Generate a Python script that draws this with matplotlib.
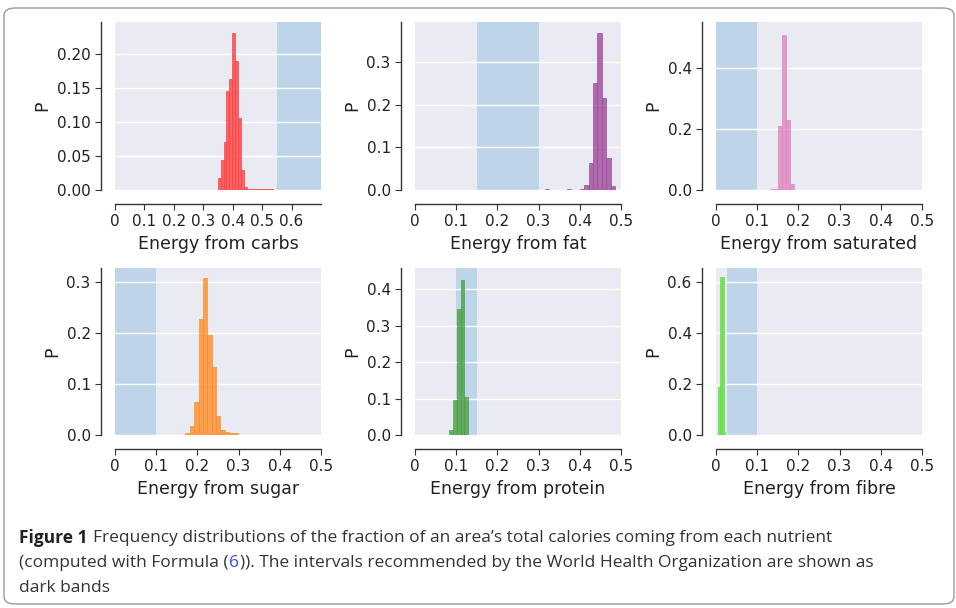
import matplotlib
matplotlib.use("Agg")
import matplotlib.pyplot as plt
from matplotlib.patches import FancyBboxPatch
from matplotlib.ticker import FuncFormatter

# --- data (bin left edges, bin width, heights) ---
carbs_start, carbs_w = 0.349, 0.0099
carbs_h = [0.017, 0.044, 0.07, 0.145, 0.163, 0.231, 0.19, 0.106, 0.03, 0.005, 0.001, 0.002, 0.001, 0.001, 0.0015, 0.001, 0.001, 0.001, 0.001]
fat_start, fat_w = 0.3156, 0.0106
fat_h = [0.002, 0.001, 0.001, 0.001, 0.001, 0.002, 0.001, 0.001, 0.002, 0.012, 0.0625, 0.25, 0.368, 0.216, 0.075, 0.01]
sat_start, sat_w = 0.13, 0.01
sat_h = [0.003, 0.004, 0.21, 0.51, 0.23, 0.02]
sugar_start, sugar_w = 0.171, 0.0106
sugar_h = [0.003, 0.018, 0.065, 0.227, 0.308, 0.196, 0.133, 0.037, 0.01, 0.005, 0.003, 0.003]
prot_start, prot_w = 0.0837, 0.009
prot_h = [0.013, 0.095, 0.345, 0.425, 0.104]
fibre_start, fibre_w = 0.005, 0.0045
fibre_h = [0.19, 0.62, 0.62, 0.01]

labels = ["Energy from carbs", "Energy from fat", "Energy from saturated",
          "Energy from sugar", "Energy from protein", "Energy from fibre"]
bands = [(0.55, 0.75), (0.15, 0.30), (0.0, 0.10), (0.0, 0.10), (0.10, 0.15), (0.027, 0.10)]
xmax = [0.70, 0.5, 0.5, 0.5, 0.5, 0.5]
ymax = [0.247, 0.393, 0.551, 0.327, 0.458, 0.655]
yticks = [[0, .05, .10, .15, .20], [0, .1, .2, .3], [0, .2, .4],
          [0, .1, .2, .3], [0, .1, .2, .3, .4], [0, .2, .4, .6]]
xticks = [[0, .1, .2, .3, .4, .5, .6]] + [[0, .1, .2, .3, .4, .5]] * 5
colors = ["#ff4040", "#a04a9c", "#e085c0", "#ff8c2a", "#4aa040", "#5ee040"]
series = [(carbs_start, carbs_w, carbs_h), (fat_start, fat_w, fat_h), (sat_start, sat_w, sat_h),
          (sugar_start, sugar_w, sugar_h), (prot_start, prot_w, prot_h), (fibre_start, fibre_w, fibre_h)]

W, H = 956, 608
fig = plt.figure(figsize=(W / 100, H / 100), dpi=100)
box = FancyBboxPatch((4 / W, 4 / H), 950 / W, 596 / H, boxstyle="round,pad=0,rounding_size=0.012",
                     transform=fig.transFigure, fc="white", ec="#9a9a9a", lw=1.0, figure=fig, zorder=-10)
fig.patches.append(box)

lefts = [115, 415, 716]
rows = [(22, 190), (268, 435)]
for i in range(6):
    r, c = divmod(i, 3)
    t, b = rows[r]
    ax = fig.add_axes([lefts[c] / W, 1 - b / H, 206 / W, (b - t) / H])
    ax.set_facecolor("#eaeaf2")
    ax.set_axisbelow(True)
    ax.grid(axis="y", color="white", lw=1.0)
    ax.axvspan(*bands[i], color="#bcd3e8", alpha=0.95, lw=0, zorder=0.5)
    s, w, h = series[i]
    xs = [s + k * w for k in range(len(h))]
    ax.bar(xs, h, width=w, align="edge", color=colors[i], alpha=0.8,
           edgecolor=colors[i], linewidth=0.6, zorder=2)
    ax.set_xlim(0, xmax[i])
    ax.set_ylim(0, ymax[i])
    ax.set_xticks(xticks[i])
    ax.set_yticks(yticks[i])
    ax.xaxis.set_major_formatter(FuncFormatter(lambda v, p: "0" if abs(v) < 1e-9 else f"{v:.1f}"))
    if i == 0:
        ax.yaxis.set_major_formatter(FuncFormatter(lambda v, p: f"{v:.2f}"))
    else:
        ax.yaxis.set_major_formatter(FuncFormatter(lambda v, p: f"{v:.1f}"))
    for sp in ["top", "right"]:
        ax.spines[sp].set_visible(False)
    ax.spines["left"].set_position(("outward", 10))
    ax.spines["bottom"].set_position(("outward", 10))
    for sp in ["left", "bottom"]:
        ax.spines[sp].set_color("#333333")
        ax.spines[sp].set_linewidth(1.0)
    ax.tick_params(labelsize=11, length=4, color="#333333", labelcolor="#222222")
    ax.set_xlabel(labels[i], fontsize=12.5, color="#222222")
    ax.set_ylabel("P", fontsize=12.5, color="#222222")

kw = dict(fontsize=12.5, va="center", family="Open Sans")
fig.text(19 / W, 1 - 538 / H, "Figure 1", fontweight="bold", color="#222222", **kw)
fig.text(93 / W, 1 - 538 / H, "Frequency distributions of the fraction of an area\u2019s total calories coming from each nutrient",
         color="#333333", **kw)
fig.canvas.draw()
r = fig.canvas.get_renderer()
x = 19
for txt, col in [("(computed with Formula (", "#333333"), ("6", "#3a4fd0"),
                 (")). The intervals recommended by the World Health Organization are shown as", "#333333")]:
    t = fig.text(x / W, 1 - 563 / H, txt, color=col, **kw)
    x = t.get_window_extent(r).x1 + 0.5
fig.text(19 / W, 1 - 588 / H, "dark bands", color="#333333", **kw)

fig.savefig("out.png", dpi=100)
